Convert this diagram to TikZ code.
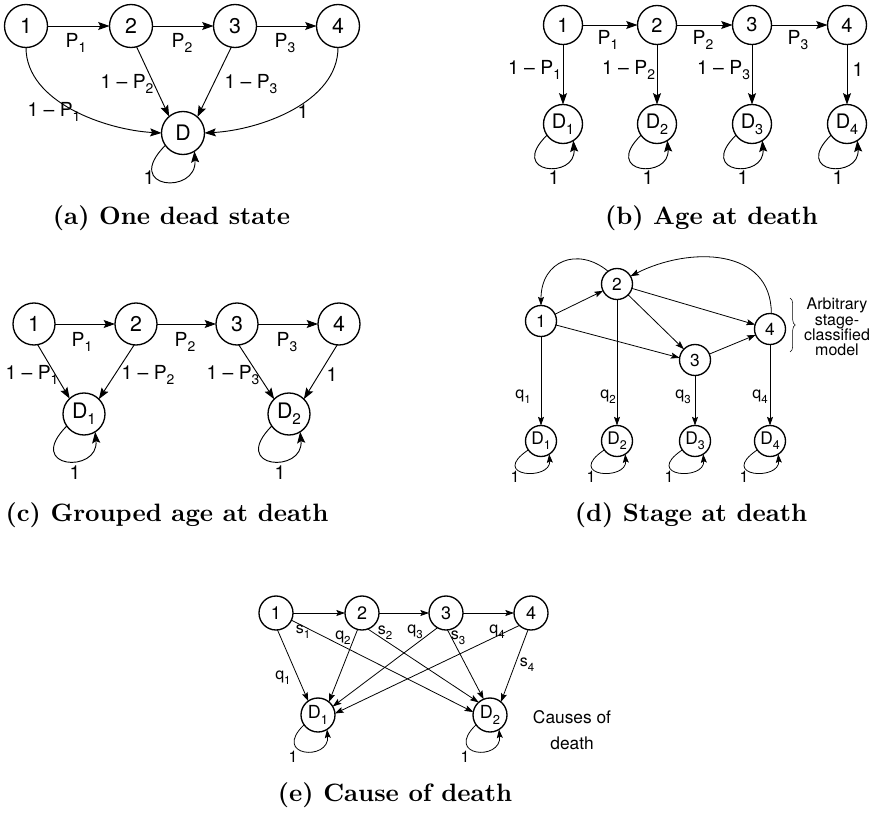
\documentclass[tikz,border=0pt]{standalone}
\usepackage{fontspec}
\setsansfont{TeX Gyre Heros}
\newfontface\capfont{lmroman10-bold.otf}
\usepackage{graphicx}
\usetikzlibrary{arrows.meta,decorations.pathreplacing}
\newcommand\sbs[1]{\raisebox{-0.3em}{\scalebox{0.72}{#1}}}
\begin{document}
\begin{tikzpicture}[x=0.75pt,y=-0.75pt,
  every node/.style={inner sep=0pt,outer sep=0pt},
  stbase/.style={circle,draw,line width=1pt},
  stA/.style={stbase,minimum size=32.25pt,font=\sffamily\fontsize{16}{16}\selectfont},
  stB/.style={stbase,minimum size=29.25pt,font=\sffamily\fontsize{15}{15}\selectfont},
  stC/.style={stbase,minimum size=31.5pt,font=\sffamily\fontsize{16}{16}\selectfont},
  stD/.style={stbase,minimum size=23.25pt,font=\sffamily\fontsize{13}{13}\selectfont},
  stE/.style={stbase,minimum size=25.5pt,font=\sffamily\fontsize{13.5}{13.5}\selectfont},
  lbl/.style={font=\sffamily\fontsize{14.5}{14.5}\selectfont},
  lbls/.style={font=\sffamily\fontsize{12}{12}\selectfont},
  arr/.style={line width=0.7pt,-{Stealth[length=8.5pt,width=6pt,inset=1.5pt]}},
  arrs/.style={line width=0.6pt,-{Stealth[length=6.5pt,width=4.5pt,inset=1.2pt]}},
  capt/.style={font=\capfont\fontsize{18.85}{22}\selectfont}
]
\useasboundingbox (0,0) rectangle (871,813);

% ---------------- (a) ----------------
\node[stA] (a1) at (26,26) {1};
\node[stA] (a2) at (131,26) {2};
\node[stA] (a3) at (235,26) {3};
\node[stA] (a4) at (338,26) {4};
\node[stA] (aD) at (183,133) {D};
\draw[arr] (a1) -- (a2);
\draw[arr] (a2) -- (a3);
\draw[arr] (a3) -- (a4);
\draw[arr] (a1.-90) .. controls +(0,55) and +(-55,-3) .. (aD.180);
\draw[arr] (a4.-90) .. controls +(0,55) and +(55,-3) .. (aD.0);
\draw[arr] (a2.-75) -- (aD.130);
\draw[arr] (a3.-100) -- (aD.48);
\draw[arr] (aD.215) .. controls +(-44,44) and +(3,44) .. (aD.-58);
\node[lbl] at (76,43) {P\sbs{1}};
\node[lbl] at (182,43) {P\sbs{2}};
\node[lbl] at (285,43) {P\sbs{3}};
\node[lbl] at (127,84) {1 – P\sbs{2}};
\node[lbl] at (251,84) {1 – P\sbs{3}};
\node[lbl] at (54,112) {1 – P\sbs{1}};
\node[lbl] at (303,112) {1};
\node[lbl] at (149,178) {1};
\node[capt] at (171.5,218) {(a) One dead state};

% ---------------- (b) ----------------
\foreach \i/\x in {1/563,2/657,3/752,4/847}{
  \node[stB] (b\i) at (\x,25) {\i};
  \node[stB] (bD\i) at (\x,124) {D\sbs{\i}};
  \draw[arr] (b\i) -- (bD\i);
  \draw[arr] (bD\i.215) .. controls +(-40,39) and +(3,39) .. (bD\i.-58);
  \node[lbl] at (\x-9,178) {1};
}
\draw[arr] (b1) -- (b2);
\draw[arr] (b2) -- (b3);
\draw[arr] (b3) -- (b4);
\node[lbl] at (608,40) {P\sbs{1}};
\node[lbl] at (703,40) {P\sbs{2}};
\node[lbl] at (798,40) {P\sbs{3}};
\node[lbl,anchor=east] at (561,70) {1 – P\sbs{1}};
\node[lbl,anchor=east] at (655,70) {1 – P\sbs{2}};
\node[lbl,anchor=east] at (750,70) {1 – P\sbs{3}};
\node[lbl] at (858,70) {1};
\node[capt] at (711.5,218) {(b) Age at death};

% ---------------- (c) ----------------
\node[stC] (c1) at (34,324) {1};
\node[stC] (c2) at (136,324) {2};
\node[stC] (c3) at (237,324) {3};
\node[stC] (c4) at (339,324) {4};
\node[stC] (cD1) at (84,414) {D\sbs{1}};
\node[stC] (cD2) at (289,414) {D\sbs{2}};
\draw[arr] (c1) -- (c2);
\draw[arr] (c2) -- (c3);
\draw[arr] (c3) -- (c4);
\draw[arr] (c1.-80) -- (cD1.133);
\draw[arr] (c2.-95) -- (cD1.45);
\draw[arr] (c3.-85) -- (cD2.135);
\draw[arr] (c4.-95) -- (cD2.45);
\draw[arr] (cD1.215) .. controls +(-43,43) and +(4,42) .. (cD1.-58);
\draw[arr] (cD2.215) .. controls +(-43,43) and +(4,42) .. (cD2.-58);
\node[lbl] at (82,342) {P\sbs{1}};
\node[lbl] at (185,342) {P\sbs{2}};
\node[lbl] at (287,342) {P\sbs{3}};
\node[lbl] at (32,375) {1 – P\sbs{1}};
\node[lbl] at (148,375) {1 – P\sbs{2}};
\node[lbl] at (233,375) {1 – P\sbs{3}};
\node[lbl] at (332,375) {1};
\node[lbl] at (75,473) {1};
\node[lbl] at (280,473) {1};
\node[capt] at (167,515) {(c) Grouped age at death};

% ---------------- (d) ----------------
\node[stD] (d1) at (541,321) {1};
\node[stD] (d2) at (617,284) {2};
\node[stD] (d3) at (695,360) {3};
\node[stD] (d4) at (770,329) {4};
\foreach \i/\x in {1/541,2/617,3/695,4/770}{
  \node[stD] (dD\i) at (\x,441) {D\sbs{\i}};
  \draw[arrs] (d\i) -- (dD\i);
  \draw[arrs] (dD\i.215) .. controls +(-40,27) and +(2,27) .. (dD\i.-58);
  \node[lbls] at (\x-26,477) {1};
}
\draw[arrs] (d1) -- (d2);
\draw[arrs] (d1.-15) -- (d3.172);
\draw[arrs] (d2) -- (d3);
\draw[arrs] (d2) -- (d4);
\draw[arrs] (d3) -- (d4);
\draw[arrs] (d2.125) .. controls +(-30,-25) and +(0,-45) .. (d1.90);
\draw[arrs] (d4.85) .. controls +(0,-66) and +(59,-30) .. (d2.30);
\node[lbls] at (523,397) {q\sbs{1}};
\node[lbls] at (608,397) {q\sbs{2}};
\node[lbls] at (683,397) {q\sbs{3}};
\node[lbls] at (760,397) {q\sbs{4}};
\coordinate (brt) at (790,298);
\coordinate (brb) at (790,352);
\draw[line width=0.4pt,decorate,decoration={brace,amplitude=4pt}] (brt) -- (brb);
\node[lbls,align=center,font=\sffamily\fontsize{12}{11.5}\selectfont] at (837,327) {Arbitrary\\stage-\\classified\\model};
\node[capt] at (691,515) {(d) Stage at death};

% ---------------- (e) ----------------
\node[stE] (e1) at (276,613) {1};
\node[stE] (e2) at (362,613) {2};
\node[stE] (e3) at (446,613) {3};
\node[stE] (e4) at (531,613) {4};
\node[stE] (eD1) at (318,715) {D\sbs{1}};
\node[stE] (eD2) at (490,715) {D\sbs{2}};
\draw[arrs] (e1) -- (e2);
\draw[arrs] (e2) -- (e3);
\draw[arrs] (e3) -- (e4);
\draw[arrs] (e1.-85) -- (eD1.125);
\draw[arrs] (e1.-25) -- (eD2.170);
\draw[arrs] (e2.-105) -- (eD1.50);
\draw[arrs] (e2.-70) -- (eD2.132);
\draw[arrs] (e3.-120) -- (eD1.30);
\draw[arrs] (e3.-85) -- (eD2.112);
\draw[arrs] (e4.-133) -- (eD1.5);
\draw[arrs] (e4.-100) -- (eD2.50);
\draw[arrs] (eD1.215) .. controls +(-33,32) and +(3,32) .. (eD1.-58);
\draw[arrs] (eD2.215) .. controls +(-33,32) and +(3,32) .. (eD2.-58);
\node[lbls] at (303,632) {s\sbs{1}};
\node[lbls] at (343,638) {q\sbs{2}};
\node[lbls] at (385,633) {s\sbs{2}};
\node[lbls] at (415,632) {q\sbs{3}};
\node[lbls] at (458,638) {s\sbs{3}};
\node[lbls] at (497,632) {q\sbs{4}};
\node[lbls] at (527,665) {s\sbs{4}};
\node[lbls] at (283,678) {q\sbs{1}};
\node[lbls] at (293,757) {1};
\node[lbls] at (465,757) {1};
\node[align=center,font=\sffamily\fontsize{13}{20}\selectfont] at (572,730) {Causes of\\death};
\node[capt] at (395,795) {(e) Cause of death};
\end{tikzpicture}
\end{document}
